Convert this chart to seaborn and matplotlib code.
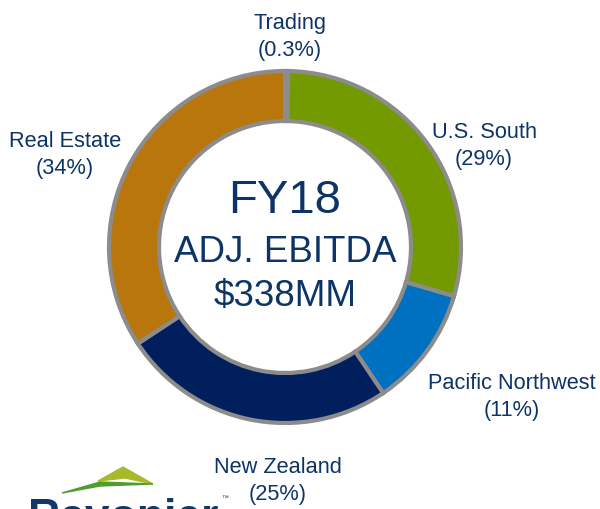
import matplotlib.pyplot as plt
import seaborn as sns
from matplotlib.patches import Polygon

# segment data, clockwise from the top
segments = ['Trading', 'U.S. South', 'Pacific Northwest', 'New Zealand', 'Real Estate']
shares = [0.3, 29, 11, 25, 34]
share_labels = ['(0.3%)', '(29%)', '(11%)', '(25%)', '(34%)']
colors = ['#8a8a8a', '#739a00', '#0070c0', '#001f5c', '#b8760c']

# label positions in pixels (x, y from top)
label_pos = [(290, 37), (484, 146), (512, 397), (278, 481), (65, 155)]

sns.set_theme(style='white')
plt.rcParams['font.family'] = ['Liberation Sans', 'DejaVu Sans']
text_color = '#0d3466'

fig = plt.figure(figsize=(6, 5.09), dpi=100)
ax = fig.add_axes([0, 0, 1, 1])
H = 509

ax.pie(shares, colors=colors, startangle=90, counterclock=False,
       center=(285, H - 247), radius=176,
       wedgeprops=dict(width=50, edgecolor='#8c8c8c', linewidth=3))

for name, pct, (x, y) in zip(segments, share_labels, label_pos):
    ax.text(x, H - y, name + '\n' + pct, ha='center', va='center',
            fontsize=15.7, color=text_color, linespacing=1.4)

# centre title
ax.text(285, H - 201, 'FY18', ha='center', va='center', fontsize=34, color=text_color)
ax.text(285, H - 252, 'ADJ. EBITDA', ha='center', va='center', fontsize=26.5, color=text_color)
ax.text(285, H - 296, '$338MM', ha='center', va='center', fontsize=26.5, color=text_color)

# logo, cut off at the bottom edge
ax.add_patch(Polygon([(98, H - 481), (123, H - 467), (153, H - 484), (125, H - 478)],
                     closed=True, color='#a9b92c'))
ax.add_patch(Polygon([(62, H - 493), (100, H - 482), (153, H - 484), (100, H - 486)],
                     closed=True, color='#4f9d2f'))
ax.text(123, H - 530, 'Rayonier', ha='center', va='baseline', fontsize=32,
        fontweight='bold', color='#12386a', clip_on=False)
ax.text(221, H - 499, '\u2122', ha='left', va='center', fontsize=5, color='#12386a')

ax.set_xlim(0, 600)
ax.set_ylim(0, H)
ax.set_aspect('equal')
ax.axis('off')

fig.savefig('out.png', dpi=100)
